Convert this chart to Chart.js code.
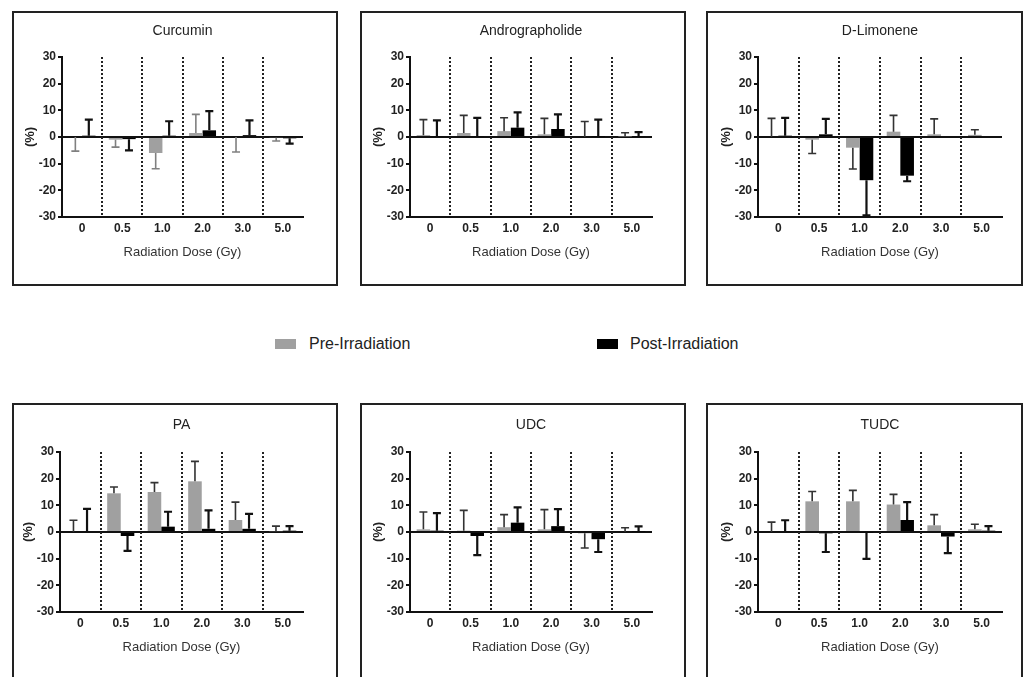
<!DOCTYPE html>
<html>
<head>
<meta charset="utf-8">
<script src="https://cdn.jsdelivr.net/npm/chart.js@4.4.1/dist/chart.umd.min.js"></script>
<style>
	body { margin: 0; background: #fff; width: 1028px; height: 677px; overflow: hidden; position: relative; font-family: 'Liberation Sans', Arial, sans-serif; }
	.panel { position: absolute; border: 2px solid #222; box-sizing: border-box; background: #fff; }
	.panel canvas { display: block; }
	.swatch { position: absolute; width: 21px; height: 10px; }
	.label { position: absolute; font-size: 16px; line-height: 18px; color: #222; }
</style>
</head>
<body>
<div class="swatch" style="left:275px;top:339px;background:#a0a0a0"></div>
<div class="label" style="left:309px;top:335px">Pre-Irradiation</div>
<div class="swatch" style="left:597px;top:339px;background:#000"></div>
<div class="label" style="left:630px;top:335px">Post-Irradiation</div>

<script>
const doses = ['0', '0.5', '1.0', '2.0', '3.0', '5.0'];
const yTicks = [-30, -20, -10, 0, 10, 20, 30];
const seriesNames = ['Pre-Irradiation', 'Post-Irradiation'];

// bar values and the end value of each (one-sided) error bar
const curcuminPre = [0, -1, -6, 1.5, 0, -0.3];
const curcuminPreTip = [-5.3, -3.8, -11.9, 8.5, -5.6, -1.5];
const curcuminPost = [0.5, -0.8, 0.5, 2.5, 0.7, -0.5];
const curcuminPostTip = [6.5, -5, 5.9, 9.7, 6.2, -2.5];

const androPre = [0.7, 1.5, 2.2, 1, 0, 0.2];
const androPreTip = [6.5, 8.1, 7.2, 7, 5.8, 1.6];
const androPost = [0.3, 0.3, 3.5, 3, 0.2, 0.3];
const androPostTip = [6.2, 7.2, 9.2, 8.5, 6.5, 1.8];

const limonenePre = [0, -1, -4, 2, 1, 0.8];
const limonenePreTip = [7, -6.2, -12, 8.1, 6.8, 2.7];
const limonenePost = [0.5, 1, -16.2, -14.5, null, null];
const limonenePostTip = [7.2, 6.8, -29.4, -16.6, null, null];

const paPre = [0, 14.5, 15, 19, 4.5, 0.3];
const paPreTip = [4.4, 16.9, 18.5, 26.5, 11.2, 2.2];
const paPost = [0, -1.5, 2, 1.2, 1.2, 0.5];
const paPostTip = [8.7, -7.1, 7.6, 8.1, 6.8, 2.2];

const udcPre = [1, 0.5, 1.8, 1, -0.5, 0];
const udcPreTip = [7.5, 8.1, 6.5, 8.4, -6, 1.6];
const udcPost = [0.5, -1.5, 3.5, 2.2, -2.7, 0.2];
const udcPostTip = [7.1, -8.7, 9.2, 8.6, -7.5, 2.1];

const tudcPre = [0, 11.5, 11.5, 10.3, 2.5, 1];
const tudcPreTip = [3.7, 15.2, 15.6, 14.1, 6.5, 2.9];
const tudcPost = [0, -0.5, -0.2, 4.5, -1.7, 0.5];
const tudcPostTip = [4.4, -7.5, -10.1, 11.2, -7.9, 2.2];

// screen layout: box [left, top, width, height], plot [left, right, top, bottom], title centre y
const panels = [
	{ title: 'Curcumin', pre: curcuminPre, preTip: curcuminPreTip, post: curcuminPost, postTip: curcuminPostTip,
		box: [12, 11, 326, 275], plot: [62, 303, 57, 217], titleY: 31, preErr: '#808080' },
	{ title: 'Andrographolide', pre: androPre, preTip: androPreTip, post: androPost, postTip: androPostTip,
		box: [360, 11, 326, 275], plot: [410, 652, 57, 217], titleY: 31, preErr: '#333' },
	{ title: 'D-Limonene', pre: limonenePre, preTip: limonenePreTip, post: limonenePost, postTip: limonenePostTip,
		box: [706, 11, 317, 275], plot: [758, 1002, 57, 217], titleY: 31, preErr: '#333' },
	{ title: 'PA', pre: paPre, preTip: paPreTip, post: paPost, postTip: paPostTip,
		box: [12, 403, 326, 285], plot: [60, 303, 452, 612], titleY: 425, preErr: '#333' },
	{ title: 'UDC', pre: udcPre, preTip: udcPreTip, post: udcPost, postTip: udcPostTip,
		box: [360, 403, 326, 285], plot: [410, 652, 452, 612], titleY: 425, preErr: '#333' },
	{ title: 'TUDC', pre: tudcPre, preTip: tudcPreTip, post: tudcPost, postTip: tudcPostTip,
		box: [706, 403, 317, 285], plot: [758, 1002, 452, 612], titleY: 425, preErr: '#333' }
];

const FONT = "'Liberation Sans', Arial, sans-serif";

// dotted lines between dose groups
const separators = {
	id: 'separators',
	beforeDatasetsDraw(chart) {
		const { ctx, chartArea, scales: { x } } = chart;
		ctx.save();
		ctx.strokeStyle = '#222';
		ctx.lineWidth = 2;
		ctx.setLineDash([2, 2]);
		for (let i = 0; i < doses.length - 1; i++) {
			const px = Math.round((x.getPixelForValue(i) + x.getPixelForValue(i + 1)) / 2);
			ctx.beginPath();
			ctx.moveTo(px, chartArea.top);
			ctx.lineTo(px, chartArea.bottom);
			ctx.stroke();
		}
		ctx.restore();
	}
};

// one-sided error bars with a cap
const errorBars = {
	id: 'errorBars',
	afterDatasetsDraw(chart) {
		const { ctx, scales: { y } } = chart;
		chart.data.datasets.forEach((ds, i) => {
			const meta = chart.getDatasetMeta(i);
			ctx.save();
			ctx.strokeStyle = ds.errColor;
			ctx.lineWidth = ds.errWidth;
			meta.data.forEach((bar, j) => {
				const tip = ds.tips[j];
				if (tip == null || ds.data[j] == null) return;
				const y0 = y.getPixelForValue(ds.data[j]);
				const y1 = y.getPixelForValue(tip);
				ctx.beginPath();
				ctx.moveTo(bar.x, y0);
				ctx.lineTo(bar.x, y1);
				ctx.moveTo(bar.x - 4, y1);
				ctx.lineTo(bar.x + 4, y1);
				ctx.stroke();
			});
			ctx.restore();
		});
	}
};

panels.forEach(p => {
	const [bx, by, bw, bh] = p.box;
	const div = document.createElement('div');
	div.className = 'panel';
	div.style.left = bx + 'px';
	div.style.top = by + 'px';
	div.style.width = bw + 'px';
	div.style.height = bh + 'px';
	const canvas = document.createElement('canvas');
	const cw = bw - 4, ch = bh - 4;
	canvas.width = cw;
	canvas.height = ch;
	div.appendChild(canvas);
	document.body.appendChild(div);

	const ox = bx + 2, oy = by + 2;
	const plotL = p.plot[0] - ox, plotR = p.plot[1] - ox;
	const plotT = p.plot[2] - oy, plotB = p.plot[3] - oy;
	const titleC = p.titleY - oy;
	const xHeight = 43, yWidth = 40;

	new Chart(canvas, {
		type: 'bar',
		data: {
			labels: doses,
			datasets: [
				{ label: seriesNames[0], data: p.pre, tips: p.preTip, backgroundColor: '#a0a0a0',
					errColor: p.preErr, errWidth: 1.6 },
				{ label: seriesNames[1], data: p.post, tips: p.postTip, backgroundColor: '#000',
					errColor: '#111', errWidth: 2.2 }
			]
		},
		options: {
			responsive: false,
			animation: false,
			categoryPercentage: 0.67,
			barPercentage: 1,
			layout: {
				padding: { left: plotL - yWidth, right: cw - plotR, top: 0, bottom: ch - (plotB + xHeight) }
			},
			plugins: {
				legend: { display: false },
				tooltip: { enabled: false },
				title: {
					display: true,
					text: p.title,
					fullSize: false,
					color: '#222',
					font: { family: FONT, size: 14, weight: 'normal', lineHeight: 1.2 },
					padding: { top: titleC - 8.4, bottom: plotT - titleC - 8.4 }
				}
			},
			scales: {
				x: {
					afterFit: s => { s.height = xHeight; },
					grid: { display: false, drawTicks: false },
					border: { display: true, color: '#111', width: 2 },
					ticks: { color: '#222', padding: 4, font: { family: FONT, size: 12, weight: 'bold' } },
					title: { display: true, text: 'Radiation Dose (Gy)', color: '#333', padding: 0,
						font: { family: FONT, size: 13, weight: 'normal' } }
				},
				y: {
					min: -30,
					max: 30,
					afterFit: s => { s.width = yWidth; },
					afterBuildTicks: s => { s.ticks = yTicks.map(v => ({ value: v })); },
					grid: {
						color: c => (c.tick && c.tick.value === 0 ? '#111' : 'transparent'),
						lineWidth: 2,
						tickColor: '#111',
						tickLength: 4,
						tickWidth: 2
					},
					border: { display: true, color: '#111', width: 2 },
					ticks: { color: '#222', padding: 2, font: { family: FONT, size: 12, weight: 'bold' } },
					title: { display: true, text: '(%)', color: '#222', padding: { top: 1, bottom: 0 },
						font: { family: FONT, size: 13, weight: 'bold' } }
				}
			}
		},
		plugins: [separators, errorBars]
	});
});
</script>
</body>
</html>
